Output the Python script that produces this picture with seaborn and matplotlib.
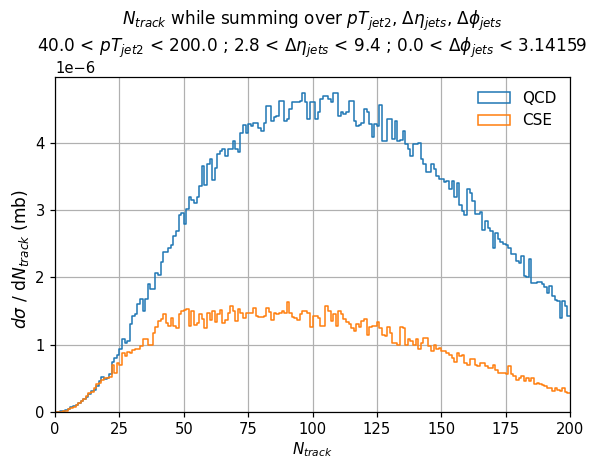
import numpy as np
import pandas as pd
import matplotlib
matplotlib.use("Agg")
import matplotlib.pyplot as plt
from matplotlib.patches import Patch
import seaborn as sns

# Differential cross section per N_track bin (units of 1e-6 mb), bins of width 1 over [0, 200)
qcd = [
    0.0, 0.005, 0.01, 0.02, 0.03, 0.05, 0.07, 0.09, 0.11, 0.13,
    0.17, 0.20, 0.23, 0.27, 0.31, 0.33, 0.38, 0.46, 0.52, 0.49,
    0.50, 0.56, 0.75, 0.80, 0.85, 0.93, 1.08, 1.03, 1.06, 1.30,
    1.42, 1.45, 1.60, 1.68, 1.50, 1.68, 1.90, 1.83, 1.83, 2.07,
    2.03, 2.23, 2.37, 2.38, 2.43, 2.48, 2.62, 2.69, 2.92, 2.95,
    2.79, 3.01, 3.19, 3.15, 3.11, 3.20, 3.36, 3.66, 3.37, 3.68,
    3.76, 3.45, 3.62, 3.83, 3.88, 3.90, 3.80, 3.90, 3.91, 4.03,
    3.91, 3.87, 4.15, 4.26, 4.15, 4.28, 4.25, 4.30, 4.30, 4.22,
    4.18, 4.30, 4.55, 4.55, 4.33, 4.38, 4.40, 4.62, 4.62, 4.33,
    4.35, 4.50, 4.60, 4.60, 4.60, 4.62, 4.74, 4.60, 4.35, 4.60,
    4.60, 4.35, 4.45, 4.65, 4.70, 4.70, 4.65, 4.60, 4.74, 4.74,
    4.40, 4.45, 4.42, 4.45, 4.62, 4.62, 4.33, 4.25, 4.27, 4.30,
    4.50, 4.45, 4.28, 4.08, 4.28, 4.25, 4.56, 4.03, 4.03, 4.35,
    4.35, 4.06, 4.33, 4.03, 4.04, 4.17, 3.98, 3.90, 3.80, 3.98,
    3.98, 4.00, 3.76, 3.68, 3.57, 3.56, 3.68, 3.61, 3.51, 3.46,
    3.46, 3.42, 3.43, 3.31, 3.43, 3.19, 3.40, 3.07, 2.99, 2.92,
    3.31, 3.25, 3.14, 2.94, 2.94, 2.97, 2.71, 2.84, 2.74, 2.69,
    2.44, 2.66, 2.57, 2.52, 2.50, 2.48, 2.44, 2.34, 2.34, 2.25,
    2.22, 2.32, 2.02, 2.00, 2.27, 1.92, 1.92, 1.93, 1.93, 1.90,
    1.86, 1.77, 1.87, 1.73, 1.67, 1.65, 1.40, 1.65, 1.57, 1.42,
]
cse = [
    0.0, 0.0, 0.005, 0.01, 0.02, 0.04, 0.06, 0.08, 0.10, 0.13,
    0.16, 0.19, 0.24, 0.28, 0.30, 0.35, 0.41, 0.43, 0.47, 0.50,
    0.50, 0.52, 0.70, 0.58, 0.73, 0.70, 0.88, 0.83, 0.89, 0.87,
    0.92, 0.93, 0.93, 0.98, 1.09, 1.08, 1.00, 1.00, 1.18, 1.27,
    1.35, 1.38, 1.45, 1.32, 1.28, 1.40, 1.28, 1.25, 1.45, 1.50,
    1.52, 1.53, 1.28, 1.50, 1.29, 1.32, 1.45, 1.38, 1.25, 1.47,
    1.37, 1.50, 1.33, 1.45, 1.52, 1.32, 1.36, 1.47, 1.57, 1.50,
    1.35, 1.53, 1.47, 1.40, 1.47, 1.47, 1.47, 1.55, 1.42, 1.41,
    1.41, 1.43, 1.55, 1.48, 1.37, 1.47, 1.45, 1.47, 1.50, 1.47,
    1.63, 1.47, 1.41, 1.40, 1.37, 1.45, 1.50, 1.50, 1.47, 1.27,
    1.43, 1.42, 1.40, 1.28, 1.28, 1.58, 1.50, 1.35, 1.45, 1.28,
    1.50, 1.45, 1.38, 1.33, 1.31, 1.25, 1.20, 1.30, 1.27, 1.35,
    1.38, 1.15, 1.27, 1.28, 1.28, 1.33, 1.25, 1.15, 1.13, 1.26,
    1.17, 1.03, 1.03, 1.00, 1.26, 1.25, 1.00, 1.08, 1.05, 1.00,
    1.08, 0.93, 1.03, 1.10, 1.10, 0.98, 0.90, 1.00, 0.94, 0.95,
    0.90, 0.90, 0.88, 0.85, 0.80, 0.75, 0.88, 0.83, 0.85, 0.73,
    0.70, 0.78, 0.78, 0.70, 0.68, 0.73, 0.73, 0.68, 0.66, 0.66,
    0.70, 0.63, 0.58, 0.58, 0.58, 0.56, 0.68, 0.56, 0.53, 0.48,
    0.50, 0.53, 0.46, 0.50, 0.46, 0.50, 0.41, 0.43, 0.41, 0.40,
    0.38, 0.36, 0.36, 0.31, 0.36, 0.32, 0.31, 0.36, 0.29, 0.28,
]
processes = ["QCD", "CSE"]
colors = {"QCD": "#1f77b4", "CSE": "#ff7f0e"}
n_bins = 200
n_range = (0, 200)

centers = np.arange(n_range[0], n_range[1]) + 0.5
df = pd.concat([
    pd.DataFrame({"Ntrack": centers, "xsec": np.array(vals) * 1e-6, "process": name})
    for name, vals in zip(processes, [qcd, cse])
], ignore_index=True)

s = 1.1
plt.rcParams.update({
    "font.size": 11,
    "axes.titlesize": 12.2,
    "axes.labelsize": 11,
    "xtick.labelsize": 10.6,
    "ytick.labelsize": 10.6,
    "legend.fontsize": 11,
    "axes.linewidth": 0.8 * s,
    "xtick.major.width": 0.8 * s,
    "ytick.major.width": 0.8 * s,
    "xtick.major.size": 3.5 * s,
    "ytick.major.size": 3.5 * s,
    "grid.linewidth": 0.8 * s,
})

fig = plt.figure(figsize=(6.13, 4.59), dpi=100)
ax = fig.add_axes([55 / 613, 47 / 459, 515 / 613, 335 / 459])

for name in processes:
    sns.histplot(
        data=df[df["process"] == name], x="Ntrack", weights="xsec",
        bins=n_bins, binrange=n_range, element="step", fill=False,
        color=colors[name], linewidth=1.1, ax=ax,
    )

ax.set_xlim(*n_range)
ax.set_ylim(bottom=0)
ax.grid(True)
ax.set_axisbelow(True)
ax.set_xlabel(r"$N_{track}$", labelpad=2.5)
ax.set_ylabel(r"$d\sigma$ / d$N_{track}$ (mb)", fontsize=12.3)
ax.yaxis.set_label_coords(-0.047, 0.457)
ax.set_title(
    r"$N_{track}$ while summing over $pT_{jet2}$, $\Delta\eta_{jets}$, $\Delta\phi_{jets}$"
    "\n"
    r"40.0 < $pT_{jet2}$ < 200.0 ; 2.8 < $\Delta\eta_{jets}$ < 9.4 ; 0.0 < $\Delta\phi_{jets}$ < 3.14159"
)

handles = [Patch(facecolor="none", edgecolor=colors[n], linewidth=1.1, label=n) for n in processes]
ax.legend(handles=handles, loc="upper right", frameon=False, handlelength=2.1)

fig.savefig("out.png", dpi=100)
